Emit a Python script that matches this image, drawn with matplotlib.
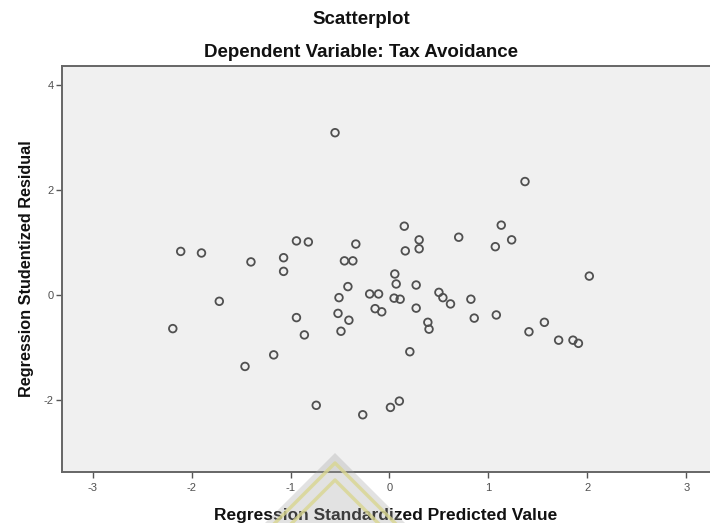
import matplotlib
matplotlib.use("Agg")
import matplotlib.pyplot as plt
from matplotlib.patches import Polygon

# regression standardized predicted value (x) vs studentized residual (y)
pred = [-0.55, -2.11, -1.90, -1.40, -1.07, -0.94, -0.82, -0.34, -0.455, -0.37,
        -1.07, -0.42, -0.51, -0.20, -0.11, -0.145, -0.078, -1.72, -2.19, -0.94,
        -0.52, -0.41, -0.86, -0.49, -1.17, -1.46, -0.74, -0.27, 0.01, 0.10,
        1.37, 0.15, 1.13, 0.30, 0.70, 1.235, 0.16, 0.30, 1.07, 0.054,
        2.02, 0.068, 0.27, 0.047, 0.108, 0.50, 0.54, 0.617, 0.823, 0.27,
        0.388, 0.40, 0.857, 1.08, 1.41, 1.566, 1.71, 1.855, 1.91, 0.206]
resid = [3.09, 0.83, 0.80, 0.63, 0.71, 1.03, 1.01, 0.97, 0.65, 0.65,
         0.45, 0.16, -0.05, 0.02, 0.02, -0.26, -0.32, -0.12, -0.64, -0.43,
         -0.35, -0.48, -0.76, -0.69, -1.14, -1.36, -2.10, -2.28, -2.14, -2.02,
         2.16, 1.31, 1.33, 1.05, 1.10, 1.05, 0.84, 0.88, 0.92, 0.40,
         0.36, 0.21, 0.19, -0.06, -0.08, 0.05, -0.05, -0.17, -0.08, -0.25,
         -0.52, -0.65, -0.44, -0.38, -0.70, -0.52, -0.86, -0.86, -0.92, -1.08]

xticks = [-3, -2, -1, 0, 1, 2, 3]
yticks = [-2, 0, 2, 4]

plt.rcParams["font.family"] = ["Liberation Sans", "DejaVu Sans"]
plt.rcParams["axes.unicode_minus"] = False

fig = plt.figure(figsize=(7.1, 5.23), dpi=100)
ax = fig.add_axes([0.0873, 0.0975, 0.9127, 0.7763])
ax.set_facecolor("#f0f0f0")

ax.scatter(pred, resid, s=30, facecolors="none", edgecolors="#505050",
           linewidths=1.3, zorder=3)

ax.set_xlim(-3.31, 3.24)
ax.set_ylim(-3.37, 4.36)
ax.set_xticks(xticks)
ax.set_yticks(yticks)
ax.tick_params(length=4, width=1, color="#555555", labelsize=8,
               labelcolor="#505050", pad=2)
ax.tick_params(axis="x", pad=4)
for side in ["left", "bottom", "top"]:
    ax.spines[side].set_color("#666666")
    ax.spines[side].set_linewidth(1.4)
ax.spines["right"].set_visible(False)

ax.set_xlabel("Regression Standardized Predicted Value", fontsize=12.5,
              fontweight="bold", color="#111111", labelpad=11)
ax.set_ylabel("Regression Studentized Residual", fontsize=11.7,
              fontweight="bold", color="#111111", labelpad=7)

fig.text(0.509, 0.962, "Scatterplot", ha="center", va="center",
         fontsize=13.5, fontweight="bold", color="#111111")
fig.text(0.509, 0.899, "Dependent Variable: Tax Avoidance", ha="center",
         va="center", fontsize=13.5, fontweight="bold", color="#111111")

# faint watermark behind the x label
W, H = 710.0, 523.0
def fpt(x, y):
    return (x / W, 1 - y / H)
outer = Polygon([fpt(335, 453), fpt(265, 523), fpt(405, 523)],
                closed=True, transform=fig.transFigure, facecolor="#a0a0a0",
                alpha=0.3, edgecolor="none", zorder=0)
fig.patches.append(outer)
for apex, half in [(463, 62), (480, 45)]:
    xs = [(335 - half) / W, 335 / W, (335 + half) / W]
    ys = [1 - (apex + half) / H, 1 - apex / H, 1 - (apex + half) / H]
    fig.lines.append(plt.Line2D(xs, ys, transform=fig.transFigure,
                                color="#f2ee8a", lw=2.5, alpha=0.8, zorder=0))

fig.savefig("out.png", dpi=100)
plt.close(fig)
